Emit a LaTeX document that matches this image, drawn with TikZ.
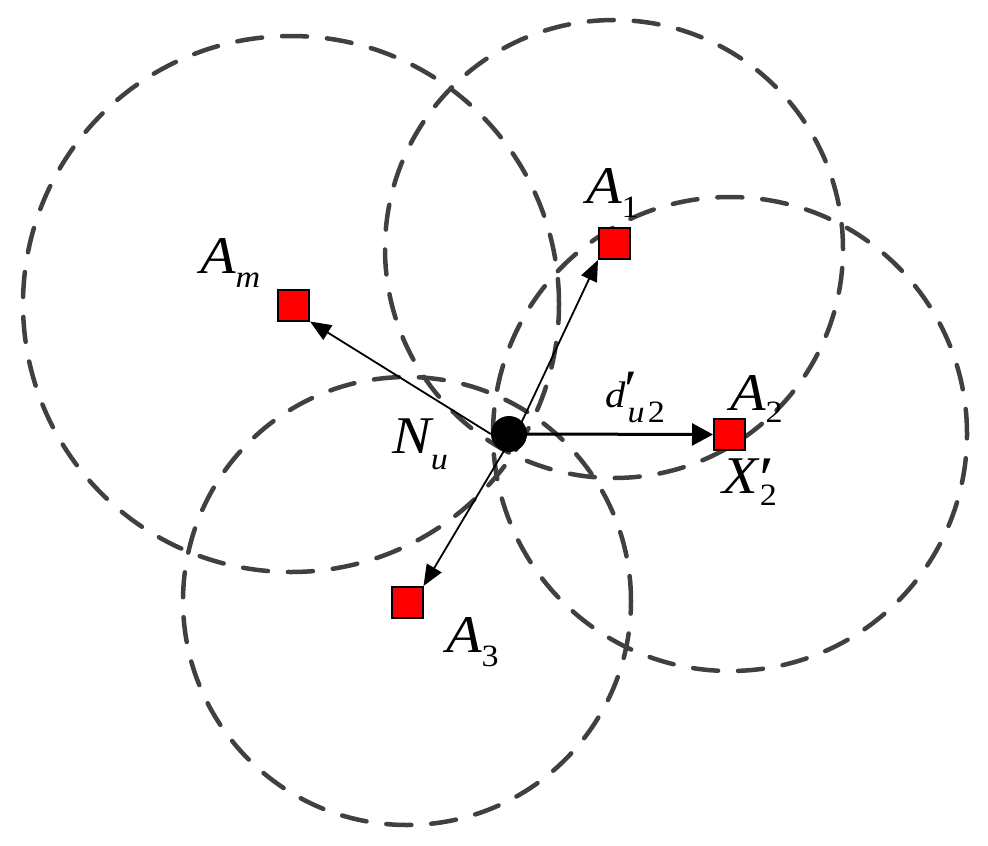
\documentclass[tikz,border=0pt]{standalone}
\usepackage{graphicx}
\usepackage{fontspec}
\setmainfont{Liberation Serif}
\usetikzlibrary{arrows.meta}
\definecolor{ringgray}{RGB}{64,64,64}
\newcommand\bigit[1]{{\fontsize{53}{60}\selectfont\itshape #1}}
\newcommand\subsc[2][-14pt]{\raisebox{#1}{\fontsize{31}{36}\selectfont #2}}
\newcommand\primemark[3]{\rlap{\kern#3\raisebox{#1}{\fontsize{#2}{#2}\selectfont\symbol{"2032}}}}
\newcommand\widetext[1]{\scalebox{1.1}[1]{#1}}
\begin{document}
\begin{tikzpicture}[x=1pt,y=-1pt,
  ring/.style={draw=ringgray, line width=4.5pt, line cap=round, dash pattern=on 25pt off 20pt},
  anchorbox/.style={rectangle, draw=black, fill=red, line width=2pt, minimum size=31pt, inner sep=0pt},
  usernode/.style={circle, fill=black, minimum size=36pt, inner sep=0pt},
  thinarrow/.style={draw=black, line width=1.8pt, -{Triangle[length=21pt,width=17pt]}},
  thickarrow/.style={draw=black, line width=3pt, -{Triangle[length=21pt,width=22pt]}},
  lbl/.style={anchor=base west, inner sep=0pt, outer sep=0pt}
]
\useasboundingbox (0,0) rectangle (988,846);
\fill[white] (0,0) rectangle (988,846);
\draw[ring] (291,304) circle[radius=268pt];
\draw[ring] (614,249) circle[radius=229pt];
\draw[ring] (730,434) circle[radius=237pt];
\draw[ring] (407,601) circle[radius=224pt];

\node[usernode] (Nu) at (509,434) {};
\node[anchorbox] (Am) at (293.5,305) {};
\node[anchorbox] (A1) at (614.5,243.5) {};
\node[anchorbox] (A2) at (729.5,434.5) {};
\node[anchorbox] (A3) at (407,602.5) {};

\draw[thinarrow] (Nu.west) -- (Am.south east);
\draw[thinarrow] ([xshift=7pt]Nu.center) -- (A1.south west);
\draw[thickarrow] (Nu.east) -- (A2.west);
\draw[thinarrow] ([xshift=5pt]Nu.center) -- (A3.north east);

\node[lbl] (LAm) at (200,273) {\widetext{\bigit{A}\subsc{\itshape m}}};
\node[lbl] (LA1) at (586,203) {\widetext{\bigit{A}\subsc{1}}};
\node[lbl] (LA2) at (730,410) {\widetext{\bigit{A}\subsc[-12pt]{2}}};
\node[lbl] (LA3) at (446,652) {\widetext{\bigit{A}\subsc{3}}};
\node[lbl] (LNu) at (392,453) {\widetext{\bigit{N}\subsc[-16pt]{\itshape u}}};
\node[lbl] (Ld) at (605,407) {\widetext{{\fontsize{37}{42}\selectfont\itshape d}\kern2pt\primemark{0pt}{54pt}{-3pt}\subsc[-15pt]{\itshape u\kern3pt\upshape 2}}};
\node[lbl] (LX) at (722,493) {\widetext{\bigit{X}\kern2pt\primemark{-6pt}{62pt}{0pt}\subsc[-12pt]{2}}};
\end{tikzpicture}
\end{document}
